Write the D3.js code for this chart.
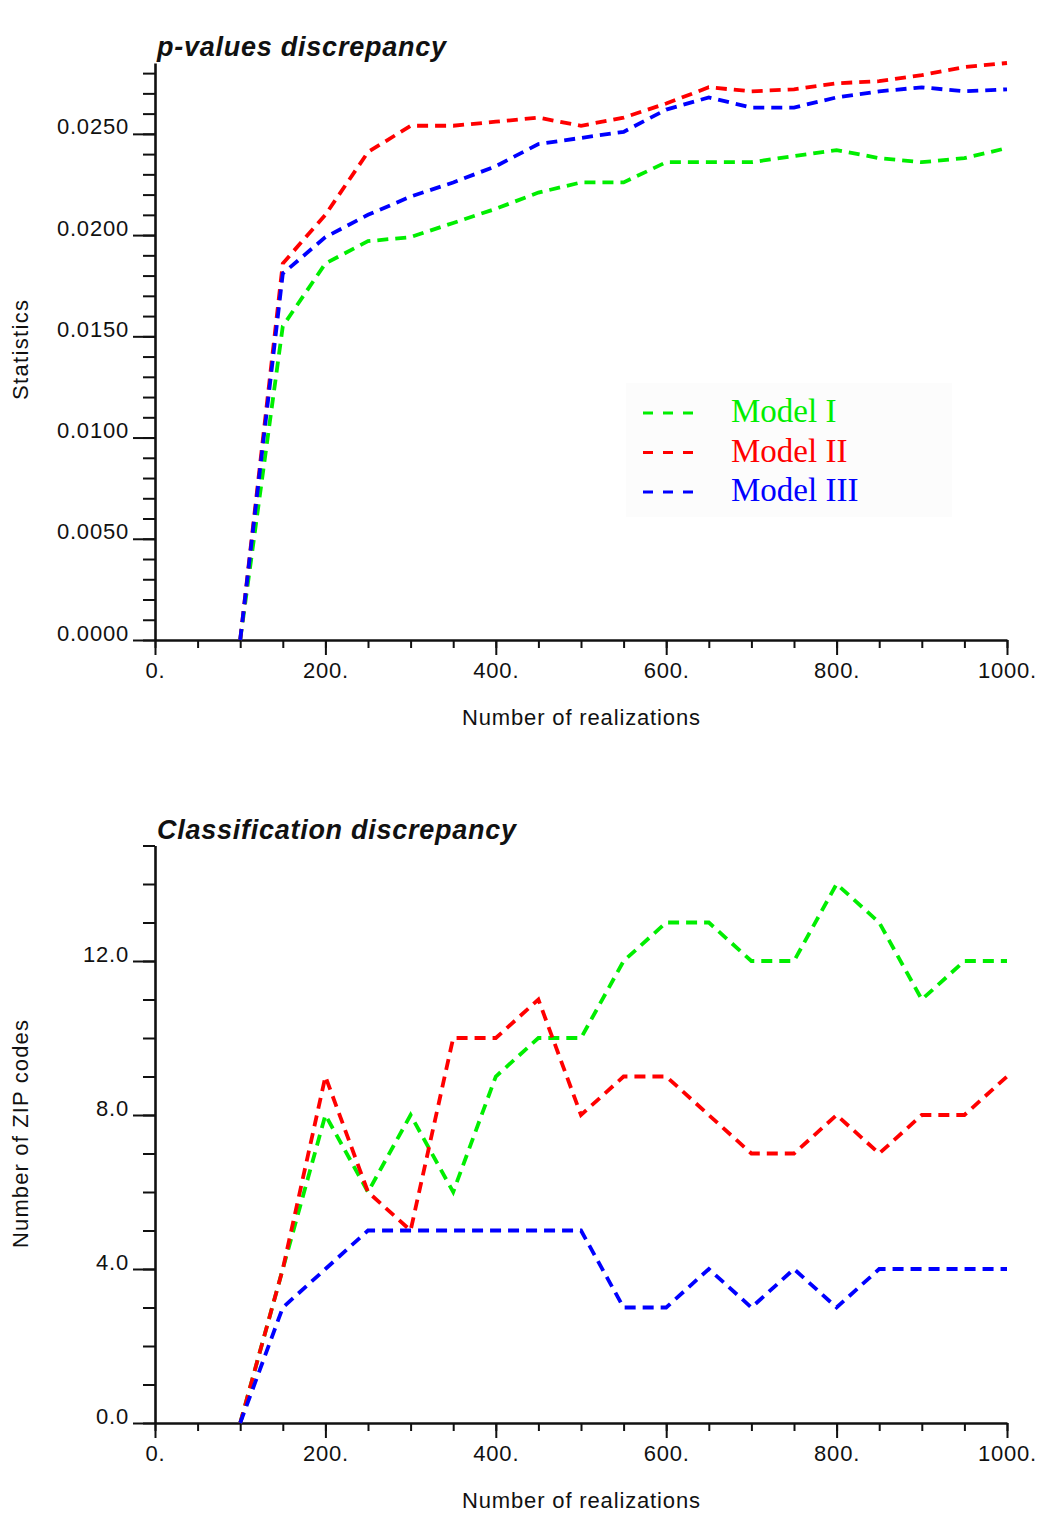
<!DOCTYPE html>
<html>
<head>
<meta charset="utf-8">
<script src="https://cdn.jsdelivr.net/npm/d3@7"></script>
<style>
  body { margin: 0; background: #fff; }
  svg { display: block; }
  text { font-family: "Liberation Sans", Arial, Helvetica, sans-serif; }
</style>
</head>
<body>
<svg id="chart" width="1037" height="1513"></svg>
<script>
// Number of realizations at which each model was evaluated
const realizations = [100, 150, 200, 250, 300, 350, 400, 450, 500, 550, 600, 650, 700, 750, 800, 850, 900, 950, 1000];

// p-values discrepancy statistic
const pModelI   = [0, 0.0155, 0.0186, 0.0197, 0.0199, 0.0206, 0.0213, 0.0221, 0.0226, 0.0226, 0.0236, 0.0236, 0.0236, 0.0239, 0.0242, 0.0238, 0.0236, 0.0238, 0.0243];
const pModelII  = [0, 0.0186, 0.0210, 0.0241, 0.0254, 0.0254, 0.0256, 0.0258, 0.0254, 0.0258, 0.0265, 0.0273, 0.0271, 0.0272, 0.0275, 0.0276, 0.0279, 0.0283, 0.0285];
const pModelIII = [0, 0.0181, 0.0199, 0.0210, 0.0219, 0.0226, 0.0234, 0.0245, 0.0248, 0.0251, 0.0262, 0.0268, 0.0263, 0.0263, 0.0268, 0.0271, 0.0273, 0.0271, 0.0272];

// Classification discrepancy: number of ZIP codes
const zipModelI   = [0, 4, 8, 6, 8, 6, 9, 10, 10, 12, 13, 13, 12, 12, 14, 13, 11, 12, 12];
const zipModelII  = [0, 4, 9, 6, 5, 10, 10, 11, 8, 9, 9, 8, 7, 7, 8, 7, 8, 8, 9];
const zipModelIII = [0, 3, 4, 5, 5, 5, 5, 5, 5, 3, 3, 4, 3, 4, 3, 4, 4, 4, 4];

const seriesNames  = ["Model I", "Model II", "Model III"];
const seriesColors = ["#00ee00", "#ff0000", "#0000ff"];

// Tick values
const xMajorTicks   = [0, 200, 400, 600, 800, 1000];
const xMinorTicks   = d3.range(0, 1001, 50);
const pMajorTicks   = [0, 0.005, 0.01, 0.015, 0.02, 0.025];
const pMinorTicks   = d3.range(0, 29).map(i => i / 1000);
const zipMajorTicks = [0, 4, 8, 12];
const zipMinorTicks = d3.range(0, 16);

const svg = d3.select("#chart");

function styleAxis(g, fontSize) {
  g.attr("font-family", null).attr("font-size", null);
  g.selectAll(".tick line").attr("stroke", "#111").attr("stroke-width", 2);
  g.selectAll(".domain").attr("stroke", "#111").attr("stroke-width", 2.6);
  g.selectAll("text").attr("fill", "#111").style("font-size", fontSize + "px").style("letter-spacing", "0.8px");
}

function drawPanel(p) {
  const x = d3.scaleLinear().domain([0, 1000]).range([155, 1007]);
  const y = d3.scaleLinear().domain([0, p.yMax]).range([p.bottom, p.top]);
  const g = svg.append("g");

  // x axis: minor then major ticks
  g.append("g").attr("transform", `translate(0,${p.bottom})`)
    .call(d3.axisBottom(x).tickValues(xMinorTicks).tickSize(8).tickFormat(""))
    .call(a => a.select(".domain").remove())
    .call(a => styleAxis(a, 22));
  g.append("g").attr("transform", `translate(0,${p.bottom})`)
    .call(d3.axisBottom(x).tickValues(xMajorTicks).tickSize(15).tickSizeOuter(0).tickFormat(d => d + "."))
    .call(a => styleAxis(a, 22))
    .call(a => a.selectAll("text").attr("y", 38).attr("dy", 0));

  // y axis: minor then major ticks
  g.append("g").attr("transform", "translate(155,0)")
    .call(d3.axisLeft(y).tickValues(p.minor).tickSize(12).tickFormat(""))
    .call(a => a.select(".domain").remove())
    .call(a => styleAxis(a, 22));
  g.append("g").attr("transform", "translate(155,0)")
    .call(d3.axisLeft(y).tickValues(p.major).tickSize(22).tickSizeOuter(0).tickPadding(4).tickFormat(p.fmt))
    .call(a => styleAxis(a, 22))
    .call(a => a.selectAll("text").attr("dy", 0));

  // titles
  g.append("text").attr("x", 157).attr("y", p.bottom - 584)
    .attr("textLength", p.titleLen).attr("lengthAdjust", "spacing")
    .style("font-size", "27px").style("font-weight", "bold").style("font-style", "italic")
    .attr("fill", "#111").text(p.title);
  g.append("text").attr("x", 581).attr("y", p.bottom + 85)
    .attr("text-anchor", "middle").attr("textLength", 238).attr("lengthAdjust", "spacing")
    .style("font-size", "22px").attr("fill", "#111").text("Number of realizations");
  g.append("text")
    .attr("transform", `translate(28,${p.yLabelCenter}) rotate(-90)`)
    .attr("text-anchor", "middle").attr("textLength", p.yLabelLen).attr("lengthAdjust", "spacing")
    .style("font-size", "22px").attr("fill", "#111").text(p.yLabel);

  // series lines
  const line = d3.line().x(d => x(d[0])).y(d => y(d[1]));
  p.series.forEach((vals, i) => {
    g.append("path")
      .datum(realizations.map((r, j) => [r, vals[j]]))
      .attr("fill", "none")
      .attr("stroke", seriesColors[i])
      .attr("stroke-width", 3.8)
      .attr("stroke-dasharray", "11,7")
      .attr("d", line);
  });
  return g;
}

drawPanel({
  top: 63, bottom: 640, yMax: 0.0285,
  major: pMajorTicks, minor: pMinorTicks, fmt: d3.format(".4f"),
  title: "p-values discrepancy", titleLen: 289,
  yLabel: "Statistics", yLabelCenter: 350, yLabelLen: 100,
  series: [pModelI, pModelII, pModelIII]
});

drawPanel({
  top: 845.5, bottom: 1423, yMax: 15,
  major: zipMajorTicks, minor: zipMinorTicks, fmt: d3.format(".1f"),
  title: "Classification discrepancy", titleLen: 359,
  yLabel: "Number of ZIP codes", yLabelCenter: 1134, yLabelLen: 228,
  series: [zipModelI, zipModelII, zipModelIII]
});

// legend for the upper panel
const legend = svg.append("g").attr("transform", "translate(626,383)");
legend.append("rect").attr("width", 326).attr("height", 134).attr("fill", "#fcfcfc");
seriesNames.forEach((name, i) => {
  const row = legend.append("g").attr("transform", `translate(0,${30 + i * 39.5})`);
  row.append("line").attr("x1", 17).attr("x2", 67).attr("y1", 0).attr("y2", 0)
    .attr("stroke", seriesColors[i]).attr("stroke-width", 3).attr("stroke-dasharray", "10,10");
  row.append("text").attr("x", 105).attr("y", 9)
    .style("font-family", "'Liberation Serif', 'Times New Roman', Times, serif")
    .style("font-size", "33px").attr("fill", seriesColors[i]).text(name);
});
</script>
</body>
</html>
